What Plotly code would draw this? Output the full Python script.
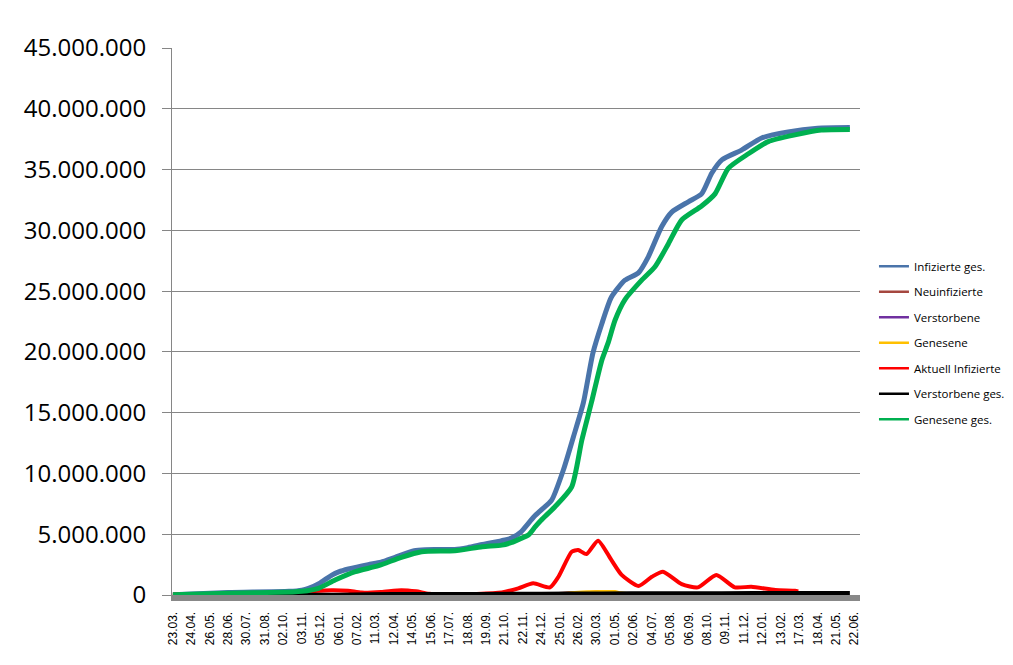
import plotly.graph_objects as go

# x tick labels (every 32nd day of the series)
tick_labels = ["23.03.", "24.04.", "26.05.", "28.06.", "30.07.", "31.08.", "02.10.", "03.11.",
               "05.12.", "06.01.", "07.02.", "11.03.", "12.04.", "14.05.", "15.06.", "17.07.",
               "18.08.", "19.09.", "21.10.", "22.11.", "24.12.", "25.01.", "26.02.", "30.03.",
               "01.05.", "02.06.", "04.07.", "05.08.", "06.09.", "08.10.", "09.11.", "11.12.",
               "12.01.", "13.02.", "17.03.", "18.04.", "21.05.", "22.06."]

# positions are measured in label steps, values in millions
inf_pos = [0, 3, 6.3, 7.0, 7.36, 8.0, 8.63, 9.0, 9.53, 10.6, 11.3, 12.06, 13.1, 13.7, 15.3, 16.0,
           16.8, 17.85, 18.4, 18.9, 19.6, 20.0, 20.56, 21.2, 21.74, 22.28, 22.8, 23.28, 23.8,
           24.54, 25.27, 25.8, 26.53, 27.08, 27.98, 28.7, 29.25, 29.8, 30.87, 31.96, 33.4, 35.0, 36.75]
inf_ges = [0.03, 0.2, 0.3, 0.4, 0.55, 1.0, 1.64, 1.9, 2.14, 2.5, 2.7, 3.1, 3.65, 3.73, 3.75, 3.9,
           4.15, 4.47, 4.7, 5.2, 6.44, 7.0, 7.8, 10.3, 13.0, 15.8, 19.9, 22.3, 24.5,
           25.9, 26.5, 27.8, 30.3, 31.5, 32.35, 33.0, 34.7, 35.8, 36.6, 37.6, 38.1, 38.4, 38.45]

gen_pos = [0, 3, 6.5, 7.0, 7.9, 8.8, 9.9, 11.16, 12.4, 13.5, 15.3, 16.8, 17.85, 18.4, 18.9, 19.3,
           19.66, 20.0, 20.74, 21.65, 22.2, 22.73, 23.28, 23.64, 24.0, 24.54, 25.45, 26.17, 26.9,
           27.62, 28.7, 29.43, 30.15, 31.24, 32.32, 33.77, 35.2, 36.75]
gen_ges = [0.02, 0.15, 0.25, 0.3, 0.55, 1.23, 1.92, 2.41, 3.1, 3.56, 3.64, 3.97, 4.1, 4.33, 4.66, 4.93,
           5.6, 6.17, 7.26, 8.9, 12.75, 15.9, 19.3, 20.8, 22.6, 24.3, 25.9, 27.0, 28.9,
           30.85, 32.0, 33.0, 35.1, 36.3, 37.3, 37.85, 38.25, 38.3]

akt_pos = [0, 1, 2, 4, 6, 7.0, 7.5, 8.6, 9.5, 10.25, 11.3, 12.4, 13.2, 13.9, 15, 16.5, 17.85,
           18.75, 19.56, 20.47, 20.93, 21.65, 22.0, 22.45, 23.08, 23.8, 24.36, 25.27, 26.0, 26.6,
           27.62, 28.5, 29.5, 30.5, 31.4, 32.7, 33.77, 33.95]
akt_inf = [0.05, 0.06, 0.02, 0.01, 0.03, 0.1, 0.3, 0.4, 0.35, 0.2, 0.25, 0.4, 0.3, 0.1, 0.05, 0.08, 0.2,
           0.55, 0.96, 0.63, 1.5, 3.56, 3.7, 3.37, 4.47, 2.88, 1.65, 0.74, 1.5, 1.92,
           0.9, 0.63, 1.65, 0.63, 0.68, 0.41, 0.35, 0.3]

tot_pos = [0, 3, 6.3, 9, 10.6, 13.1, 16.8, 20, 23.28, 26.5, 29.8, 33.4, 36.75]
tot_ges = [0.005, 0.009, 0.01, 0.03, 0.07, 0.087, 0.092, 0.11, 0.13, 0.14, 0.15, 0.165, 0.174]

neu_pos = [0, 7, 8.6, 19.5, 20.5, 21.5, 22.45, 23.08, 23.8, 24.5, 26.6, 29.5, 31, 33.95]
neu_inf = [0.0, 0.02, 0.025, 0.06, 0.1, 0.2, 0.2, 0.3, 0.15, 0.05, 0.1, 0.08, 0.03, 0.01]

vst_pos = [0, 10, 20, 33.95]
vst = [0.0, 0.001, 0.0005, 0.0002]

gns_pos = [0, 7.5, 9, 20, 21.0, 22.0, 23.3, 24.0, 24.3, 25.5, 27, 30, 33.95]
gns = [0.0, 0.02, 0.02, 0.05, 0.1, 0.25, 0.3, 0.3, 0.2, 0.05, 0.1, 0.06, 0.01]

M = 1e6
def mio(vals):
    return [v * M for v in vals]

fig = go.Figure()

series = [
    ("Infizierte ges.", inf_pos, inf_ges, "#4A74AA", 5),
    ("Neuinfizierte", neu_pos, neu_inf, "#A5473F", 2.5),
    ("Verstorbene", vst_pos, vst, "#7030A0", 2.5),
    ("Genesene", gns_pos, gns, "#FFC000", 2.5),
    ("Aktuell Infizierte", akt_pos, akt_inf, "#FF0000", 4),
    ("Verstorbene ges.", tot_pos, tot_ges, "#000000", 4),
    ("Genesene ges.", gen_pos, gen_ges, "#00B050", 5),
]

for name, xs, ys, col, w in series:
    fig.add_trace(go.Scatter(x=xs, y=mio(ys), mode="lines", name=name, showlegend=False,
                             line=dict(color=col, width=w, shape="spline", smoothing=0.6),
                             hoverinfo="skip"))

# legend entries with thin lines like the original
for i, (name, xs, ys, col, w) in enumerate(series):
    fig.add_trace(go.Scatter(x=[None], y=[None], mode="lines", name=name,
                             legendgroup="g%d" % i,
                             line=dict(color=col, width=2.5)))

# page body adds 8px, so the figure is 8px smaller
fig.update_layout(
    width=1005, height=657,
    margin=dict(l=164, r=153, t=40, b=70, autoexpand=False),
    paper_bgcolor="white", plot_bgcolor="white",
    separators=",.",
    showlegend=True,
    legend=dict(x=1.0203, y=0.461, xanchor="left", yanchor="middle",
                font=dict(family="Open Sans", size=11.5, color="black"),
                itemwidth=30, tracegroupgap=6.5, bgcolor="rgba(0,0,0,0)"),
    xaxis=dict(range=[-0.05, 37.3], tickmode="array",
               tickvals=list(range(len(tick_labels))), ticktext=tick_labels,
               tickangle=-90, tickfont=dict(family="Liberation Sans", size=12, color="black"),
               showgrid=False, zeroline=False, showline=True, linecolor="#888888", linewidth=6,
               ticks="outside", ticklen=6, tickcolor="rgba(0,0,0,0)"),
    yaxis=dict(range=[0, 45 * M], tickvals=[i * 5 * M for i in range(10)], tickformat=",d",
               tickfont=dict(family="Open Sans", size=24, color="black"),
               showgrid=True, gridcolor="#868686", gridwidth=1, zeroline=False,
               showline=True, linecolor="#868686", linewidth=1,
               ticks="outside", ticklen=9, tickcolor="#868686", ticklabelstandoff=11),
)

fig.write_html("out.html")
